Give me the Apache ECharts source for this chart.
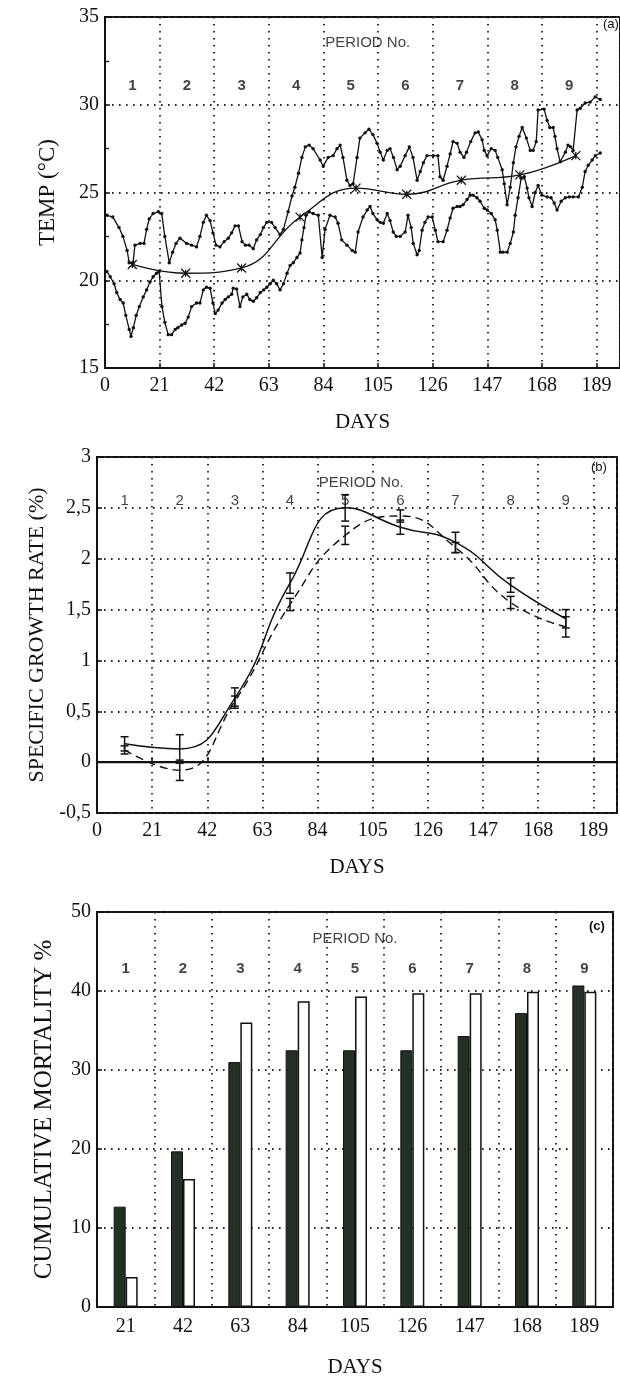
<!DOCTYPE html>
<html>
<head>
<meta charset="utf-8">
<script src="https://cdn.jsdelivr.net/npm/echarts@6/dist/echarts.min.js"></script>
<style>
  html, body { margin: 0; padding: 0; background: #fff; }
  #chart { width: 620px; height: 1382px; }
</style>
</head>
<body>
<div id="chart"></div>
<script>
// ---- data -----------------------------------------------------------------
const periods = ['1', '2', '3', '4', '5', '6', '7', '8', '9'];
const dayTicks = ['21', '42', '63', '84', '105', '126', '147', '168', '189'];

// (a) daily maximum water temperature, [day, °C]
const tempUpper = [
  [0.8, 23.7], [3, 23.6], [5.4, 23.0], [6.9, 22.5], [8.5, 21.7], [9.3, 21.0], [10.8, 21.0],
  [11.5, 22.0], [13.5, 22.1], [15, 22.1], [16, 22.9], [17, 23.5], [18.5, 23.8], [20.5, 23.9],
  [21.8, 23.8], [23, 22.5], [24.7, 21.0], [26, 21.6], [27.3, 22.1], [28.8, 22.4], [31.4, 22.1],
  [33.3, 22.0], [35.2, 21.9], [36.5, 22.5], [37.8, 23.3], [39, 23.7], [40.4, 23.4], [41.5, 22.7],
  [42.7, 22.0], [44.2, 21.9], [45.8, 22.2], [47.4, 22.4], [48.7, 22.7], [50, 23.1], [51.3, 23.1],
  [52.7, 22.2], [54, 22.0], [55.4, 22.0], [57, 21.8], [58.3, 22.3], [59.7, 22.6], [60.9, 23.0],
  [62.2, 23.3], [64, 23.3], [65.4, 23.0], [67.3, 22.6], [68.6, 22.9], [70.4, 23.9], [71.9, 24.8],
  [73, 25.3], [74.4, 26.1], [75.7, 27.0], [77, 27.6], [78.5, 27.7], [80, 27.5], [82.7, 26.85],
  [83.9, 26.5], [85.8, 27.0], [87.7, 27.1], [89.2, 27.5], [90.4, 27.7], [91.5, 27.0], [93, 25.7],
  [94.2, 25.4], [95.4, 25.5], [96.9, 27.0], [98, 28.1], [100, 28.4], [101.5, 28.6], [103, 28.3],
  [104.6, 27.8], [105.8, 27.3], [107, 26.85], [108.5, 27.4], [109.6, 27.5], [110.9, 27.0],
  [112.3, 26.3], [113.5, 26.5], [115.4, 27.1], [117, 27.6], [118.4, 27.0], [120, 25.7],
  [121.2, 26.2], [122.4, 26.7], [123.8, 27.1], [126.2, 27.1], [128, 27.1], [128.8, 25.9],
  [130, 25.7], [131.5, 26.5], [132.7, 27.2], [133.8, 27.9], [135.4, 27.8], [136.5, 27.3],
  [138, 27.0], [139, 27.3], [140.6, 27.9], [142.3, 28.4], [143.5, 28.45], [145, 28.0],
  [145.8, 27.4], [146.9, 27.1], [148.5, 27.5], [150, 27.4], [151, 27.0], [152.7, 26.3],
  [153.5, 25.5], [154.6, 24.3], [155.8, 25.3], [157, 26.7], [158, 27.6], [159.2, 28.2],
  [160.4, 28.7], [162, 28.1], [163.5, 27.4], [164.6, 27.4], [165.8, 27.9], [166.5, 29.7],
  [168.8, 29.75], [170, 29.1], [171, 28.7], [172.3, 28.7], [173, 28.2], [173.8, 27.5],
  [175, 26.75], [177, 27.3], [178, 27.7], [179, 27.6], [180, 27.4], [181.5, 29.7], [182.7, 29.8],
  [184.6, 30.1], [186.5, 30.15], [188.5, 30.45], [190.4, 30.3]
];

// (a) daily minimum water temperature, [day, °C]
const tempLower = [
  [0.7, 20.5], [2, 20.2], [3.5, 19.8], [4.5, 19.3], [5.8, 18.9], [7, 18.7], [8, 18.0], [9.3, 17.2],
  [10, 16.8], [10.9, 17.3], [12, 18.0], [13.2, 18.5], [14.7, 19.05], [16, 19.45], [17.3, 19.9],
  [18.5, 20.2], [19.8, 20.4], [20.8, 20.5], [21.9, 18.5], [23, 17.6], [24.3, 16.9], [25.6, 16.9],
  [27, 17.2], [28, 17.3], [29.5, 17.45], [30.8, 17.55], [32, 17.9], [33.3, 18.5], [35.2, 18.7],
  [36.5, 18.7], [37.8, 19.45], [39, 19.6], [40.4, 19.55], [41.5, 18.7], [42.4, 18.1], [43.5, 18.3],
  [45, 18.7], [46.2, 18.9], [47.4, 19.05], [48.7, 19.2], [49.3, 19.55], [50.6, 19.5], [51.9, 18.5],
  [53, 19.05], [54.5, 19.2], [55.7, 18.9], [57, 18.8], [58.3, 19.0], [59.7, 19.3], [61, 19.45],
  [62.2, 19.6], [63.5, 19.8], [64.7, 20.0], [66, 19.8], [67.3, 19.45], [68.6, 19.8], [70, 20.4],
  [71.2, 20.85], [72.4, 21.0], [73.8, 21.3], [75, 21.55], [75.7, 22.3], [76.5, 23.0], [77.3, 23.7],
  [78.5, 23.9], [80, 23.8], [82, 23.7], [83.5, 21.3], [84.6, 22.9], [86.5, 23.7], [88.5, 23.6],
  [89.6, 23.25], [91, 22.3], [93, 22.0], [95, 21.7], [96.2, 21.6], [97.3, 22.75], [99.2, 23.6],
  [100.8, 24.0], [101.9, 24.2], [103, 23.8], [104.6, 23.45], [105.8, 23.3], [107, 23.25],
  [108.5, 23.8], [109.6, 23.4], [110.8, 22.75], [112, 22.5], [113.5, 22.5], [115.4, 22.75],
  [116.5, 23.7], [117.7, 23.0], [118.5, 22.1], [120, 21.45], [120.8, 21.7], [121.9, 22.85],
  [123, 23.3], [124.2, 23.6], [125.8, 23.6], [127, 22.85], [128, 22.2], [130, 22.2], [131.5, 22.85],
  [132.7, 23.55], [133.8, 24.1], [135.4, 24.2], [136.5, 24.2], [137.7, 24.3], [139.2, 24.6],
  [140.4, 24.85], [141.5, 24.85], [143, 24.7], [144.2, 24.5], [145.8, 24.1], [146.9, 24.0],
  [148.5, 23.8], [150, 23.45], [150.8, 22.85], [152, 21.6], [153, 21.6], [154.6, 21.6],
  [155.8, 22.1], [157, 22.75], [157.7, 23.7], [158.8, 24.7], [160, 25.8], [161.2, 25.9],
  [162.3, 25.25], [163, 24.7], [164.2, 24.2], [165.4, 25.0], [166.5, 25.4], [168, 24.85],
  [170, 24.75], [171.5, 24.7], [172.7, 24.4], [173.8, 24.0], [175.4, 24.5], [177, 24.7],
  [178.5, 24.75], [180, 24.75], [182, 24.75], [183.5, 25.3], [184.6, 26.2], [185.8, 26.55],
  [187.3, 26.85], [188.5, 27.1], [190.4, 27.25]
];

// (a) period mean temperature
const tempMeanDays = [10.5, 31, 52.5, 75, 96.5, 116, 137, 159.5, 181];
const tempMean = [20.9, 20.4, 20.7, 23.6, 25.25, 24.9, 25.7, 26.0, 27.1];

// (b) specific growth rate per period (%), two groups with error bars
const growthDays = [10.5, 31.5, 52.5, 73.5, 94.5, 115.5, 136.5, 157.5, 178.5];
const growthSolid = [0.18, 0.13, 0.63, 1.76, 2.50, 2.31, 2.16, 1.74, 1.41];
const growthSolidErr = [0.07, 0.14, 0.10, 0.10, 0.13, 0.07, 0.10, 0.07, 0.09];
const growthDashed = [0.12, -0.08, 0.60, 1.55, 2.23, 2.42, 2.11, 1.57, 1.33];
const growthDashedErr = [0.04, 0.10, 0.05, 0.06, 0.09, 0.06, 0.05, 0.06, 0.10];

// (c) cumulative mortality (%) at the end of each period
const mortalityDark = [12.7, 19.7, 31.0, 32.5, 32.5, 32.5, 34.3, 37.2, 40.7];
const mortalityWhite = [3.8, 16.2, 36.0, 38.7, 39.3, 39.7, 39.7, 39.9, 39.9];

// ---- styling --------------------------------------------------------------
const INK = '#111111';
const SERIF = '"Liberation Serif", "DejaVu Serif", serif';
const SANS = '"Liberation Sans", "DejaVu Sans", sans-serif';
const DOTS = { color: '#2a2a2a', width: 1.9, type: [1.6, 5.4] };
const periodMid = periods.map((p, i) => 21 * i + 10.5);

function frameGrid(left, top, width, height) {
  return { left, top, width, height, show: true, borderColor: INK, borderWidth: 2,
           backgroundColor: 'transparent', containLabel: false };
}

function dayAxis(gridIndex, max) {
  return {
    type: 'value', gridIndex, min: 0, max, interval: 21,
    axisLine: { show: true, lineStyle: { color: INK, width: 2 } },
    axisTick: { show: true, inside: true, length: 5, lineStyle: { color: INK, width: 1.5 } },
    axisLabel: { color: INK, fontFamily: SERIF, fontSize: 20, margin: 8, showMaxLabel: false },
    splitLine: { show: true, lineStyle: DOTS },
    name: 'DAYS', nameLocation: 'middle', nameGap: 44,
    nameTextStyle: { color: INK, fontFamily: SERIF, fontSize: 21 }
  };
}

function valueAxis(gridIndex, min, max, interval, name, nameSize, nameGap, formatter, minor) {
  return {
    type: 'value', gridIndex, min, max, interval,
    axisLine: { show: true, lineStyle: { color: INK, width: 2 } },
    axisTick: { show: true, inside: true, length: 5, lineStyle: { color: INK, width: 1.5 } },
    minorTick: { show: !!minor, splitNumber: 2, length: 4, lineStyle: { color: INK, width: 1.3 } },
    axisLabel: { color: INK, fontFamily: SERIF, fontSize: 20, margin: 6, formatter },
    splitLine: { show: true, lineStyle: DOTS },
    name, nameLocation: 'middle', nameGap, nameRotate: 90,
    nameTextStyle: { color: INK, fontFamily: SERIF, fontSize: nameSize }
  };
}

function textLayer(xAxisIndex, yAxisIndex, points, size, weight) {
  return {
    type: 'scatter', xAxisIndex, yAxisIndex, data: points, symbolSize: 0, silent: true, z: 5,
    label: { show: true, position: 'inside', formatter: p => p.value[2],
             color: INK, fontFamily: SANS, fontSize: size, fontWeight: weight }
  };
}

function errorBars(yAxisIndex, days, mid, err) {
  return {
    type: 'custom', xAxisIndex: yAxisIndex, yAxisIndex, silent: true, z: 4,
    data: days.map((d, i) => [d, mid[i] - err[i], mid[i] + err[i]]),
    renderItem: (params, api) => {
      const lo = api.coord([api.value(0), api.value(1)]);
      const hi = api.coord([api.value(0), api.value(2)]);
      const s = { stroke: INK, lineWidth: 1.5 };
      return { type: 'group', children: [
        { type: 'line', shape: { x1: lo[0], y1: lo[1], x2: hi[0], y2: hi[1] }, style: s },
        { type: 'line', shape: { x1: lo[0] - 4, y1: lo[1], x2: lo[0] + 4, y2: lo[1] }, style: s },
        { type: 'line', shape: { x1: hi[0] - 4, y1: hi[1], x2: hi[0] + 4, y2: hi[1] }, style: s }
      ]};
    }
  };
}

const chart = echarts.init(document.getElementById('chart'), null, { renderer: 'canvas' });

chart.setOption({
  backgroundColor: '#fff',
  animation: false,
  title: [
    { text: '(a)', left: 603, top: 18, padding: 0,
      textStyle: { color: INK, fontFamily: SANS, fontSize: 13, fontWeight: 'normal' } },
    { text: '(b)', left: 591, top: 461, padding: 0,
      textStyle: { color: INK, fontFamily: SANS, fontSize: 13, fontWeight: 'normal' } },
    { text: '(c)', left: 589, top: 920, padding: 0,
      textStyle: { color: INK, fontFamily: SANS, fontSize: 13, fontWeight: 'bold' } }
  ],
  grid: [
    frameGrid(105, 17, 516, 351),
    frameGrid(97, 457, 520, 356),
    frameGrid(97, 912, 516, 395)
  ],
  xAxis: [
    dayAxis(0, 198),
    dayAxis(1, 198),
    {
      type: 'category', gridIndex: 2, data: dayTicks, boundaryGap: true,
      axisLine: { show: true, lineStyle: { color: INK, width: 2 } },
      axisTick: { show: false },
      axisLabel: { color: INK, fontFamily: SERIF, fontSize: 20, margin: 10 },
      splitLine: { show: true, interval: 0, lineStyle: DOTS },
      name: 'DAYS', nameLocation: 'middle', nameGap: 50,
      nameTextStyle: { color: INK, fontFamily: SERIF, fontSize: 21 }
    }
  ],
  yAxis: [
    valueAxis(0, 15, 35, 5, 'TEMP (°C)', 23, 46, null, true),
    valueAxis(1, -0.5, 3, 0.5, 'SPECIFIC GROWTH RATE (%)', 22, 42,
              v => String(v).replace('.', ','), false),
    valueAxis(2, 0, 50, 10, 'CUMULATIVE MORTALITY %', 25, 40, null, false)
  ],
  series: [
    // (a) temperatures
    { type: 'line', xAxisIndex: 0, yAxisIndex: 0, data: tempUpper, symbol: 'circle', symbolSize: 3.4,
      lineStyle: { color: INK, width: 1.3 }, itemStyle: { color: INK }, z: 3 },
    { type: 'line', xAxisIndex: 0, yAxisIndex: 0, data: tempLower, symbol: 'circle', symbolSize: 3.4,
      lineStyle: { color: INK, width: 1.3 }, itemStyle: { color: INK }, z: 3 },
    { type: 'line', xAxisIndex: 0, yAxisIndex: 0, smooth: 0.45,
      data: tempMeanDays.map((d, i) => [d, tempMean[i]]),
      symbol: 'path://M0,0L10,10M10,0L0,10M5,1L5,9', symbolSize: 9,
      itemStyle: { color: 'rgba(0,0,0,0)', borderColor: INK, borderWidth: 1.2 },
      lineStyle: { color: INK, width: 1.3 }, z: 3 },
    textLayer(0, 0, periods.map((p, i) => [periodMid[i], 31.1, p]), 15, 'bold'),
    textLayer(0, 0, [[101, 33.55, 'PERIOD No.']], 15, 'normal'),

    // (b) growth rates
    { type: 'line', xAxisIndex: 1, yAxisIndex: 1, smooth: 0.5, showSymbol: false,
      data: growthDays.map((d, i) => [d, growthSolid[i]]),
      lineStyle: { color: INK, width: 1.5 }, z: 3,
      markLine: { silent: true, symbol: 'none', label: { show: false },
                  lineStyle: { color: INK, width: 1.4, type: 'solid' }, data: [{ yAxis: 0 }] } },
    { type: 'line', xAxisIndex: 1, yAxisIndex: 1, smooth: 0.5, showSymbol: false,
      data: growthDays.map((d, i) => [d, growthDashed[i]]),
      lineStyle: { color: INK, width: 1.4, type: [8, 5] }, z: 3 },
    errorBars(1, growthDays, growthSolid, growthSolidErr),
    errorBars(1, growthDays, growthDashed, growthDashedErr),
    textLayer(1, 1, periods.map((p, i) => [periodMid[i], 2.57, p]), 15, 'normal'),
    textLayer(1, 1, [[100.6, 2.75, 'PERIOD No.']], 15, 'normal'),

    // (c) cumulative mortality
    { type: 'bar', xAxisIndex: 2, yAxisIndex: 2, data: mortalityDark, barWidth: 12, barGap: '0%',
      itemStyle: { color: '#243024', borderColor: INK, borderWidth: 1 }, z: 3 },
    { type: 'bar', xAxisIndex: 2, yAxisIndex: 2, data: mortalityWhite, barWidth: 12, barGap: '0%',
      itemStyle: { color: '#ffffff', borderColor: INK, borderWidth: 1.5 }, z: 3 },
    textLayer(2, 2, periods.map((p, i) => [i, 42.8, p]), 15, 'bold'),
    textLayer(2, 2, [[4, 46.6, 'PERIOD No.']], 15, 'normal')
  ]
});
</script>
</body>
</html>
